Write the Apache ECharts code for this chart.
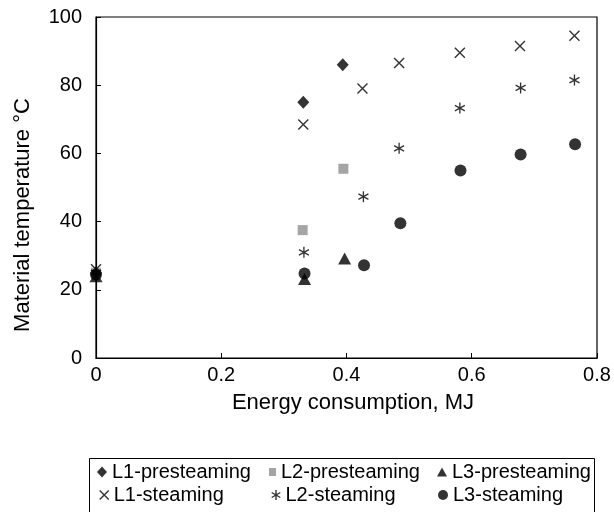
<!DOCTYPE html>
<html>
<head>
<meta charset="utf-8">
<script src="https://cdn.jsdelivr.net/npm/echarts@6/dist/echarts.min.js"></script>
<style>html,body{margin:0;padding:0;background:#fff}#c{width:614px;height:512px}</style>
</head>
<body>
<div id="c"></div>
<script>
// Data: [energy MJ, temperature °C]
const L1_PRESTEAMING = [[0, 25], [0.331, 75], [0.394, 86]];
const L2_PRESTEAMING = [[0, 25], [0.33, 37.5], [0.395, 55.5]];
const L3_PRESTEAMING = [[0, 24], [0.333, 23.2], [0.397, 29.2]];
const L1_STEAMING = [[0, 26], [0.331, 68.5], [0.4255, 79], [0.484, 86.5], [0.581, 89.5], [0.677, 91.5], [0.764, 94.5]];
const L2_STEAMING = [[0, 25], [0.332, 31], [0.427, 47.3], [0.484, 61.5], [0.581, 73.3], [0.678, 79.2], [0.764, 81.5]];
const L3_STEAMING = [[0, 24.5], [0.333, 24.8], [0.428, 27.2], [0.486, 39.5], [0.582, 55], [0.678, 59.7], [0.765, 62.7]];
const SERIES_NAMES = ['L1-presteaming', 'L2-presteaming', 'L3-presteaming', 'L1-steaming', 'L2-steaming', 'L3-steaming'];
const X_TITLE = 'Energy consumption, MJ';
const Y_TITLE = 'Material temperature °C';

const FONT = "'Liberation Sans', Arial, sans-serif";
const CROSS = 'path://M0,0L10,10M10,0L0,10';
const ASTER = 'path://M5,0L5,10M0.7,2.5L9.3,7.5M0.7,7.5L9.3,2.5';

const styles = {
  'L1-presteaming': {symbol: 'diamond', size: [12, 13], legendSize: [10, 11], item: {color: '#000'}},
  'L2-presteaming': {symbol: 'rect', size: 10, legendSize: [7, 8], item: {color: '#8f8f8f'}},
  'L3-presteaming': {symbol: 'triangle', size: [13, 12], legendSize: [10, 9], item: {color: '#000'}},
  'L1-steaming': {symbol: CROSS, size: 10, legendSize: [9, 9], item: {color: 'transparent', borderColor: '#000', borderWidth: 1.4}},
  'L2-steaming': {symbol: ASTER, size: [10, 11], legendSize: [9, 10], item: {color: 'transparent', borderColor: '#000', borderWidth: 1.4}},
  'L3-steaming': {symbol: 'circle', size: 12, legendSize: [10, 10], item: {color: '#000'}}
};
const dataByName = {
  'L1-presteaming': L1_PRESTEAMING,
  'L2-presteaming': L2_PRESTEAMING,
  'L3-presteaming': L3_PRESTEAMING,
  'L1-steaming': L1_STEAMING,
  'L2-steaming': L2_STEAMING,
  'L3-steaming': L3_STEAMING
};
// legend placement: [text start x, row top y]
const legendPos = {
  'L1-presteaming': [112, 462], 'L2-presteaming': [281, 462], 'L3-presteaming': [452, 462],
  'L1-steaming': [113, 485], 'L2-steaming': [285, 485], 'L3-steaming': [453, 485]
};

const series = SERIES_NAMES.map(n => ({
  name: n, type: 'scatter', data: dataByName[n], clip: false,
  symbol: styles[n].symbol, symbolSize: styles[n].size,
  itemStyle: styles[n].item, emphasis: {disabled: true}
}));

const legends = SERIES_NAMES.map(n => {
  const s = styles[n];
  const w = s.legendSize[0];
  const h = s.legendSize[1];
  return {
    data: [{name: n, icon: s.symbol, itemStyle: s.item}],
    left: legendPos[n][0] - 5 - w, top: legendPos[n][1],
    padding: 0, itemWidth: w, itemHeight: h, selectedMode: false,
    textStyle: {fontFamily: FONT, fontSize: 20, color: '#000'}
  };
});

const chart = echarts.init(document.getElementById('c'), null, {renderer: 'canvas'});
chart.setOption({
  animation: false,
  backgroundColor: '#fff',
  grid: {left: 96, right: 17, top: 17, bottom: 154, show: true, borderColor: '#000', borderWidth: 1.2, backgroundColor: 'transparent'},
  xAxis: {
    type: 'value', min: 0, max: 0.8, interval: 0.2,
    axisLine: {show: true, lineStyle: {color: '#000', width: 1.2}},
    axisTick: {show: true, inside: true, length: 5, lineStyle: {color: '#000'}},
    splitLine: {show: false},
    axisLabel: {fontFamily: FONT, fontSize: 20, color: '#000', margin: 7}
  },
  yAxis: {
    type: 'value', min: 0, max: 100, interval: 20,
    axisLine: {show: true, lineStyle: {color: '#000', width: 1.2}},
    axisTick: {show: true, inside: true, length: 5, lineStyle: {color: '#000'}},
    splitLine: {show: false},
    axisLabel: {fontFamily: FONT, fontSize: 20, color: '#000', margin: 14}
  },
  legend: legends,
  series: series,
  graphic: [
    {type: 'text', x: 353, y: 403, style: {text: X_TITLE, fontFamily: FONT, fontSize: 22, fill: '#000', textAlign: 'center', textVerticalAlign: 'middle'}},
    {type: 'text', x: 23, y: 215, rotation: Math.PI / 2, style: {text: Y_TITLE, fontFamily: FONT, fontSize: 22, fill: '#000', textAlign: 'center', textVerticalAlign: 'middle'}},
    {type: 'rect', shape: {x: 89.5, y: 458.5, width: 505, height: 80}, style: {fill: 'none', stroke: '#000', lineWidth: 1}, silent: true}
  ]
});
</script>
</body>
</html>
